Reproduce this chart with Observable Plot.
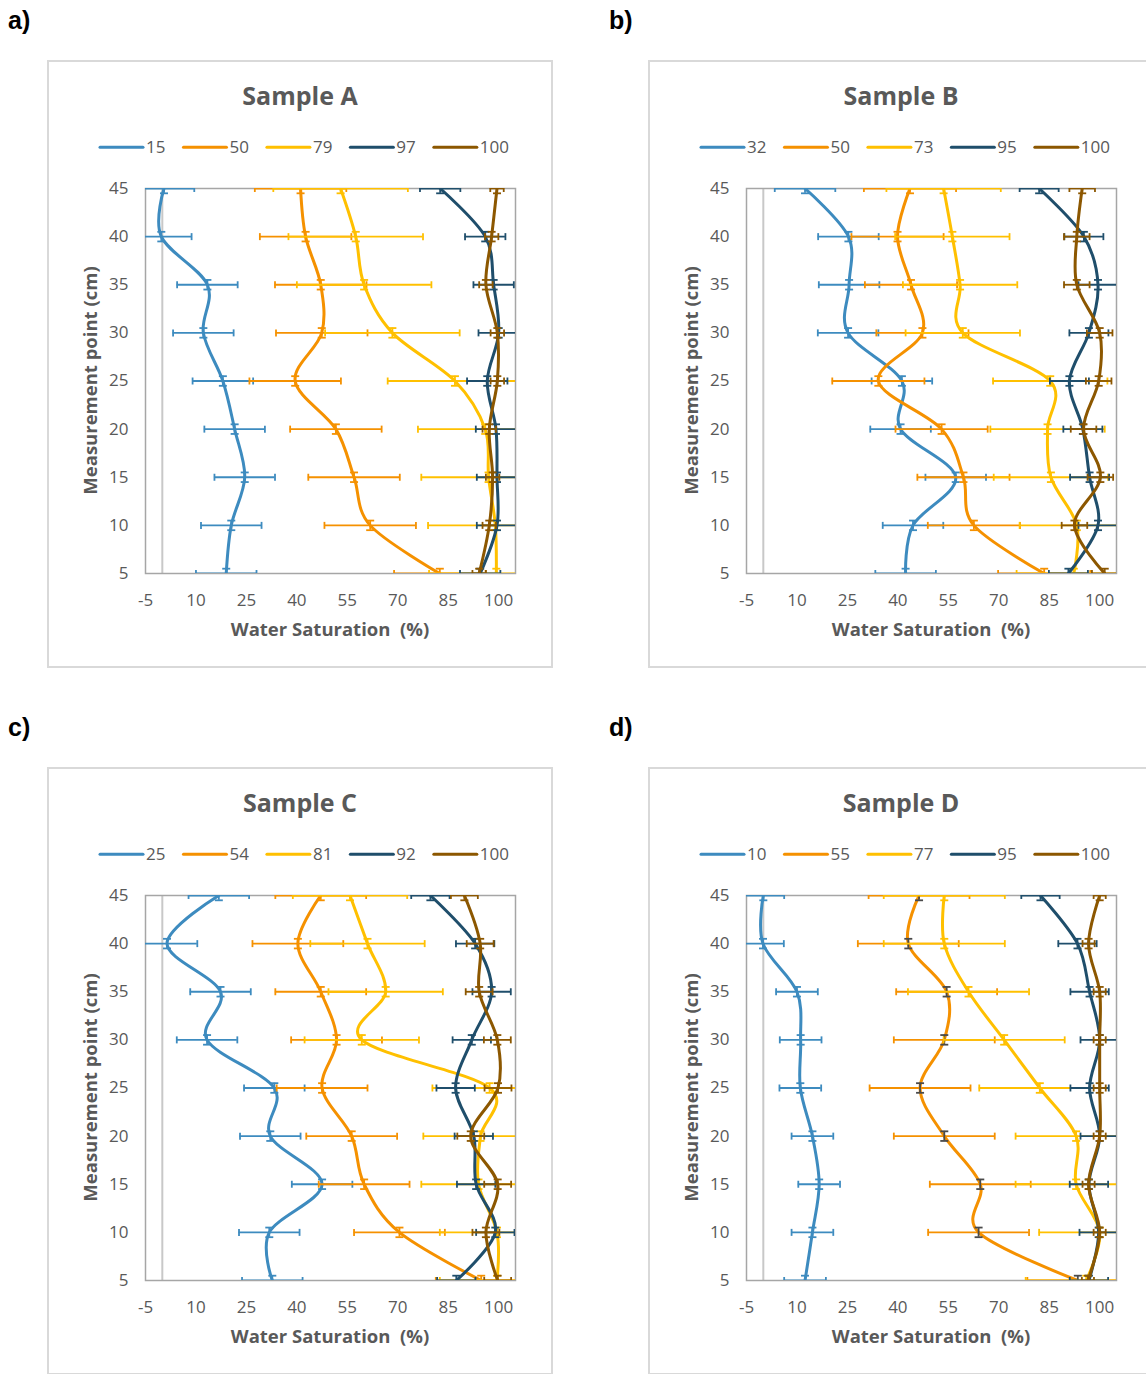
<!DOCTYPE html>
<html><head><meta charset="utf-8">
<script src="https://cdn.jsdelivr.net/npm/d3@7"></script>
<script src="https://cdn.jsdelivr.net/npm/@observablehq/plot@0.6"></script>
<style>
html,body{margin:0;padding:0;background:#fff;}
body{width:1146px;height:1374px;position:relative;overflow:hidden;font-family:"Open Sans",sans-serif;}
.panel{position:absolute;width:506px;height:608px;}
.panel svg{position:absolute;left:0;top:0;}
#overlay{position:absolute;left:0;top:0;pointer-events:none;}
</style></head><body>
<div id="pA" class="panel" style="left:47px;top:60px"></div>
<div id="pB" class="panel" style="left:648px;top:60px"></div>
<div id="pC" class="panel" style="left:47px;top:767px"></div>
<div id="pD" class="panel" style="left:648px;top:767px"></div>
<svg id="overlay" width="1146" height="1374"></svg>
<script>
// ---------- data ----------
const depth = [45, 40, 35, 30, 25, 20, 15, 10, 5];
const xTicks = [-5, 10, 25, 40, 55, 70, 85, 100];
const yTicks = [5, 10, 15, 20, 25, 30, 35, 40, 45];
const colors = ["#3d8bbf", "#f59100", "#ffc000", "#1f4e6b", "#8c5700"];
const yErr = 0.5;

// Sample A
const namesA = ["15", "50", "79", "97", "100"];
const a15  = [0.5, -0.3, 13.4, 12.2, 18, 21.5, 24.5, 20.5, 19];
const a50  = [41.1, 42.6, 47.1, 47.4, 39.5, 51.6, 57, 61.8, 82.5];
const a79  = [53, 57.5, 60, 68.4, 87, 96, 97, 99, 99.3];
const a97  = [82.6, 96, 98.5, 100, 96.6, 99.2, 99.5, 99.5, 94.5];
const a100 = [99.5, 97.9, 96.2, 99.6, 99.6, 97.2, 98.2, 97.2, 94.2];
const errA = [9, 13.6, 20, 6, 2];

// Sample B
const namesB = ["32", "50", "73", "95", "100"];
const b32  = [12.4, 25.3, 25.5, 25.2, 41.2, 40.8, 57.2, 44.5, 42.3];
const b50  = [43.6, 39.9, 43.9, 47.3, 34.2, 53, 59.5, 62.6, 83.5];
const b73  = [53.6, 56.2, 58.5, 59.3, 85.3, 84.5, 85.5, 93.2, 92.3];
const b95  = [82, 95.3, 99.5, 96.8, 91, 95, 97, 99.5, 90.7];
const b100 = [94.8, 93.2, 93.2, 100, 99.7, 95.2, 100.2, 92.5, 101.5];
const errB = [9, 13.7, 17, 5.8, 3.8];

// Sample C
const namesC = ["25", "54", "81", "92", "100"];
const c25  = [16.8, 1.4, 17.3, 13.3, 33.3, 32.1, 47.5, 31.8, 32.7];
const c54  = [47.1, 40.3, 47.1, 51.8, 47.5, 56.3, 60, 70.5, 94.8];
const c81  = [55.8, 61, 66.4, 59.3, 97.3, 94.6, 94, 99.5, 99.5];
const c92  = [79.7, 93, 97.9, 92, 87.2, 92.6, 93.3, 99, 87.4];
const c100 = [89.8, 94.5, 94.2, 99.6, 99.8, 91.7, 99.7, 96.2, 99.7];
const errC = [9, 13.5, 17, 5.7, 4];

// Sample D
const namesD = ["10", "55", "77", "95", "100"];
const d10  = [0, -0.1, 10, 11.1, 11, 14.6, 16.6, 14.6, 12.4];
const d55  = [46.3, 43.1, 54.5, 53.8, 46.6, 53.8, 64.5, 64, 93.5];
const d77  = [53.8, 53.8, 61, 71.6, 82.2, 93, 93, 100, 96];
const d95  = [82.4, 93.4, 97, 100, 97, 100, 96.8, 99.7, 96.8];
const d100 = [100, 96.7, 100, 100, 100, 100, 96.7, 100, 96.5];
const errD = [6.2, 15, 18, 5.7, 1.8];

const panels = [
  {id: "pA", tag: "a)", title: "Sample A", left: 47,  top: 60,  names: namesA, series: [a15, a50, a79, a97, a100], err: errA, yErrColor: {}},
  {id: "pB", tag: "b)", title: "Sample B", left: 648, top: 60,  names: namesB, series: [b32, b50, b73, b95, b100], err: errB, yErrColor: {}},
  {id: "pC", tag: "c)", title: "Sample C", left: 47,  top: 767, names: namesC, series: [c25, c54, c81, c92, c100], err: errC, yErrColor: {}},
  {id: "pD", tag: "d)", title: "Sample D", left: 648, top: 767, names: namesD, series: [d10, d55, d77, d95, d100], err: errD, yErrColor: {1: "#4a4a4a"}}
];

// ---------- cap symbols ----------
const vBar = {draw(ctx, size) { const r = Math.sqrt(size / Math.PI); ctx.moveTo(0, -r); ctx.lineTo(0, r); }};
const hBar = {draw(ctx, size) { const r = Math.sqrt(size / Math.PI); ctx.moveTo(-r, 0); ctx.lineTo(r, 0); }};

const W = 506, H = 608;
function makePlot(p) {
  const marks = [
    Plot.ruleX([0], {stroke: "#c8c8c8", strokeWidth: 2}),
    Plot.frame({stroke: "#a6a6a6", strokeWidth: 1.5})
  ];
  p.series.forEach((vals, i) => {
    const col = colors[i];
    const e = p.err[i];
    const yc = p.yErrColor[i] || col;
    const pts = vals.map((v, j) => ({v, d: depth[j], e}));
    const sw = 1.8;
    marks.push(Plot.line(pts, {x: "v", y: "d", stroke: col, strokeWidth: 3, curve: "cardinal", clip: true}));
    marks.push(Plot.ruleY(pts, {y: "d", x1: q => q.v - q.e, x2: q => q.v + q.e, stroke: col, strokeWidth: sw, clip: true}));
    marks.push(Plot.dot(pts, {x: q => q.v - q.e, y: "d", symbol: vBar, r: 3.5, fill: "none", stroke: col, strokeWidth: sw, clip: true}));
    marks.push(Plot.dot(pts, {x: q => q.v + q.e, y: "d", symbol: vBar, r: 3.5, fill: "none", stroke: col, strokeWidth: sw, clip: true}));
    marks.push(Plot.ruleX(pts, {x: "v", y1: q => q.d - yErr, y2: q => q.d + yErr, stroke: yc, strokeWidth: sw, clip: true}));
    marks.push(Plot.dot(pts, {x: "v", y: q => q.d - yErr, symbol: hBar, r: 4, fill: "none", stroke: yc, strokeWidth: sw, clip: true}));
    marks.push(Plot.dot(pts, {x: "v", y: q => q.d + yErr, symbol: hBar, r: 4, fill: "none", stroke: yc, strokeWidth: sw, clip: true}));
  });
  return Plot.plot({
    width: W, height: H,
    marginLeft: 98, marginRight: 38, marginTop: 128, marginBottom: 95,
    style: {fontFamily: "Open Sans", fontSize: "17px", color: "#595959", background: "transparent", overflow: "visible"},
    x: {domain: [-5, 105], ticks: xTicks, tickFormat: d => String(d), tickSize: 0, tickPadding: 20, label: null},
    y: {domain: [5, 45], ticks: yTicks, tickFormat: d => String(d), tickSize: 0, tickPadding: 17, label: null},
    marks
  });
}

panels.forEach(p => {
  document.getElementById(p.id).appendChild(makePlot(p));
});

// ---------- titles, legends, axis labels ----------
const ov = d3.select("#overlay");
panels.forEach(p => {
  const L = p.left, T = p.top;
  ov.append("rect").attr("x", L + 1).attr("y", T + 1).attr("width", W - 2).attr("height", H - 2)
    .attr("fill", "none").attr("stroke", "#d9d9d9").attr("stroke-width", 2);
  ov.append("text").attr("x", L - 39).attr("y", T - 31).text(p.tag)
    .attr("font-family", "Liberation Sans, Arial, sans-serif").attr("font-weight", "bold").attr("font-size", 25).attr("fill", "#000");
  ov.append("text").attr("x", L + 253).attr("y", T + 45).attr("text-anchor", "middle").text(p.title)
    .attr("font-family", "Open Sans").attr("font-weight", "bold").attr("font-size", 25).attr("fill", "#595959");
  let x = L + 53;
  p.names.forEach((n, i) => {
    ov.append("line").attr("x1", x).attr("x2", x + 43).attr("y1", T + 87.3).attr("y2", T + 87.3)
      .attr("stroke", colors[i]).attr("stroke-width", 3).attr("stroke-linecap", "round");
    const t = ov.append("text").attr("x", x + 46).attr("y", T + 93).text(n)
      .attr("font-family", "Open Sans").attr("font-size", 17).attr("fill", "#595959");
    const w = t.node().getComputedTextLength();
    x = x + 46 + w + 18;
  });
  ov.append("text").attr("x", L + 283).attr("y", T + 576).attr("text-anchor", "middle").text("Water Saturation  (%)")
    .attr("xml:space", "preserve").style("white-space", "pre")
    .attr("font-family", "Open Sans").attr("font-weight", "bold").attr("font-size", 18.5).attr("fill", "#595959");
  ov.append("text").attr("transform", `translate(${L + 50},${T + 320.5}) rotate(-90)`).attr("text-anchor", "middle")
    .text("Measurement point (cm)")
    .attr("font-family", "Open Sans").attr("font-weight", "bold").attr("font-size", 18.5).attr("fill", "#595959");
});
</script>
</body></html>
